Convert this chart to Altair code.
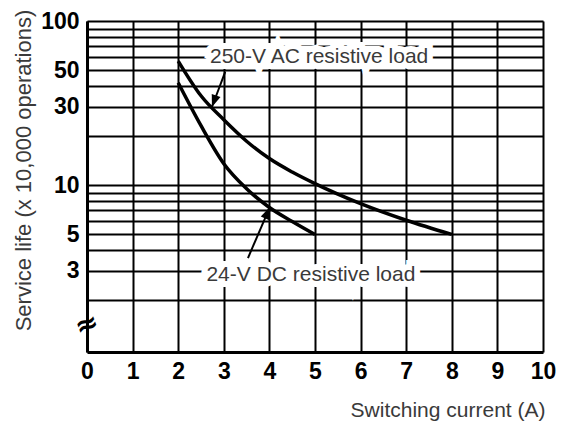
import altair as alt
import pandas as pd

# Curves (Switching current A, Service life x10,000 ops)
ac_x = [2, 2.5, 3, 3.5, 4, 4.5, 5, 6, 7, 8]
ac_y = [57, 35, 25, 18.5, 14.5, 12, 10.2, 7.7, 6.1, 5.0]
dc_x = [2, 2.5, 3, 3.5, 4, 4.5, 5]
dc_y = [42, 23, 13.5, 9.5, 7.3, 6.0, 5.0]

x_ticks = [0, 1, 2, 3, 4, 5, 6, 7, 8, 9, 10]
y_grid = [2, 3, 4, 5, 6, 7, 8, 9, 10, 20, 30, 40, 50, 60, 70, 80, 90, 100]
y_labels = [3, 5, 10, 30, 50, 100]

# Annotations
label_text = ["250-V AC resistive load", "24-V DC resistive load"]
label_x = [5.09, 4.91]
label_y = [60.3, 2.83]
arrow_x0 = [3.03, 3.53]
arrow_y0 = [48.9, 3.59]
arrow_x1 = [2.74, 4.01]
arrow_y1 = [29.9, 7.34]
arrow_angle = [200, 23]

curves = pd.concat([
    pd.DataFrame({"x": ac_x, "y": ac_y, "s": "AC"}),
    pd.DataFrame({"x": dc_x, "y": dc_y, "s": "DC"}),
])
labels = pd.DataFrame({"t": label_text, "x": label_x, "y": label_y})
arrows = pd.DataFrame({"x0": arrow_x0, "y0": arrow_y0, "x1": arrow_x1,
                       "y1": arrow_y1, "a": arrow_angle})
brk = pd.DataFrame({"x": [0], "y": [1.4], "t": ["≈"]})

xs = alt.Scale(domain=[0, 10], nice=False, zero=False)
ys = alt.Scale(type="log", domain=[0.96, 100], nice=False)

lab_expr = "(" + "||".join(f"datum.value=={v}" for v in y_labels) + ") ? datum.label : ''"

xaxis = alt.Axis(values=x_ticks, grid=True, gridColor="black", gridWidth=2,
                 gridOpacity=1, ticks=False, domainColor="black", domainWidth=3,
                 labelFont="Liberation Sans", labelFontWeight="bold", labelFontSize=23,
                 labelColor="black", labelPadding=8, labelFlush=False,
                 title="Switching current (A)", titleFont="Liberation Sans",
                 titleFontWeight="normal", titleFontSize=21, titleColor="#3a3a3a",
                 titleX=458, titleY=58, titleAlign="right", titleBaseline="middle")
yaxis = alt.Axis(values=y_grid, grid=True, gridColor="black", gridWidth=2,
                 gridOpacity=1, ticks=False, domainColor="black", domainWidth=3,
                 labelExpr=lab_expr, labelFont="Liberation Sans",
                 labelFontWeight="bold", labelFontSize=23, labelColor="black",
                 labelPadding=8, labelFlush=False, labelBaseline="middle",
                 title="Service life (x 10,000 operations)", titleFont="Liberation Sans",
                 titleFontWeight="normal", titleFontSize=22, titleColor="#3a3a3a",
                 titleX=-64, titleY=149, titleAngle=270, titleAlign="center",
                 titleBaseline="middle")

base_lines = alt.Chart(curves).mark_line(color="black", strokeWidth=3.5,
                                          interpolate="monotone").encode(
    x=alt.X("x:Q", scale=xs, axis=xaxis),
    y=alt.Y("y:Q", scale=ys, axis=yaxis),
    detail="s:N",
)

arrow_lines = alt.Chart(arrows).mark_rule(color="black", strokeWidth=2).encode(
    x=alt.X("x0:Q", scale=xs), y=alt.Y("y0:Q", scale=ys),
    x2="x1:Q", y2="y1:Q",
)
arrow_heads = alt.Chart(arrows).mark_point(
    shape="M0,0 L0.38,1 L-0.38,1 Z", filled=True, color="black", size=600, opacity=1,
).encode(
    x=alt.X("x1:Q", scale=xs), y=alt.Y("y1:Q", scale=ys), angle=alt.Angle("a:Q", scale=None),
)

halo = alt.Chart(labels).mark_text(font="Liberation Sans", fontSize=21,
                                   stroke="white", strokeWidth=12, fill="white",
                                   strokeJoin="miter").encode(
    x=alt.X("x:Q", scale=xs), y=alt.Y("y:Q", scale=ys), text="t:N")
texts = alt.Chart(labels).mark_text(font="Liberation Sans", fontSize=21,
                                    color="#3a3a3a").encode(
    x=alt.X("x:Q", scale=xs), y=alt.Y("y:Q", scale=ys), text="t:N")

brk_mark = alt.Chart(brk).mark_text(fontSize=28, fontWeight="bold", color="black",
                                    font="DejaVu Sans", angle=340).encode(
    x=alt.X("x:Q", scale=xs), y=alt.Y("y:Q", scale=ys), text="t:N")

chart = alt.layer(base_lines, arrow_lines, arrow_heads, halo, texts, brk_mark).properties(
    width=456, height=331,
    autosize=alt.AutoSizeParams(type="none"),
    padding={"left": 79, "top": 13, "right": 13, "bottom": 70},
).configure_view(stroke=None).configure(background="white")

chart.save("out.html", embed_options={"renderer": "svg", "actions": False})
